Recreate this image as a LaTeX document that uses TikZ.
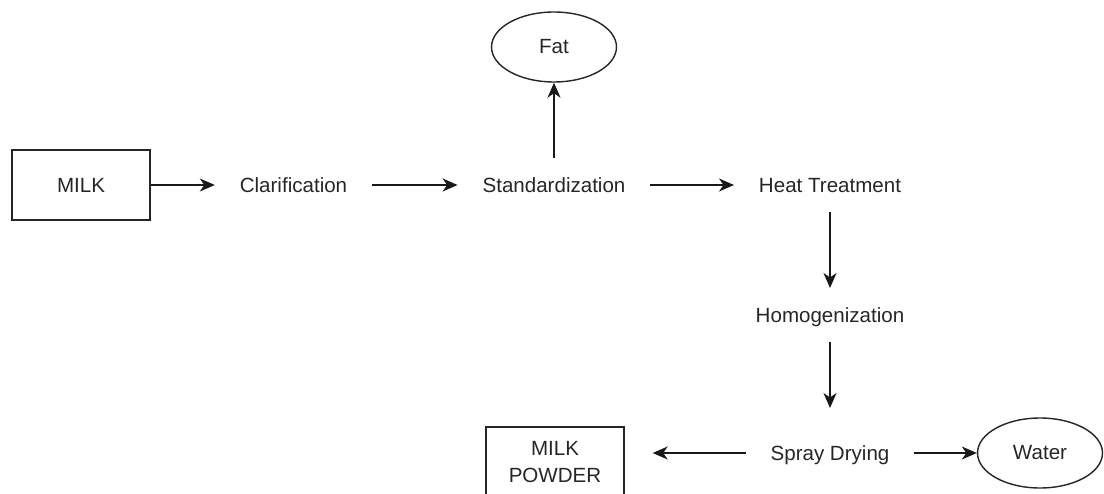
\documentclass[tikz,border=0pt]{standalone}
\usepackage{fontspec}
\setmainfont{Liberation Sans}
\usetikzlibrary{arrows.meta,
	shapes.geometric}

\begin{document}
\begin{tikzpicture}[x=0.02cm,y=-0.02cm,font=\fontsize{11.7pt}{15.3pt}\selectfont,
    >={Stealth[length=3mm,width=2.6mm,inset=0.9mm]}]
    \tikzstyle{proc}=[inner sep=0pt,text height=0.3cm,text depth=0cm,outer xsep=0.5cm,outer ysep=0.39cm,text=black!85]
    \tikzstyle{term}=[draw=black!85,line width=0.8pt,rectangle,minimum width=2.76cm,minimum height=1.4cm,align=center,text=black!85]
    \tikzstyle{waste}=[draw=black!85,line width=0.8pt,ellipse,inner sep=0pt,minimum width=2.5cm,minimum height=1.4cm,text=black!85]
    \tikzstyle{flow}=[->,line width=0.9pt,black!90]
    \useasboundingbox (0,0) rectangle (1104,493);
    \node[term] (milk) at (81,185) {MILK};
    \node[proc] (clar) at (293.5,185) {Clarification};
    \node[proc] (std) at (554,185) {Standardization};
    \node[waste] (fat) at (554,47) {Fat};
    \node[proc] (heat) at (830,185) {Heat Treatment};
    \node[proc] (homo) at (830,315) {Homogenization};
    \node[proc] (spray) at (830,453) {Spray Drying};
    \node[term] (powder) at (555,462) {MILK\\POWDER};
    \node[waste] (water) at (1040,453) {Water};
    \draw[flow] (milk) -- (clar);
    \draw[flow] (clar) -- (std);
    \draw[flow] (std) -- (fat);
    \draw[flow] (std) -- (heat);
    \draw[flow] (heat) -- (homo);
    \draw[flow,shorten >=0.36cm] (homo) -- (spray);
    \draw[flow,shorten >=0.56cm] (spray) -- (spray -| powder.east);
    \draw[flow] (spray) -- (water);
  \end{tikzpicture}
\end{document}
